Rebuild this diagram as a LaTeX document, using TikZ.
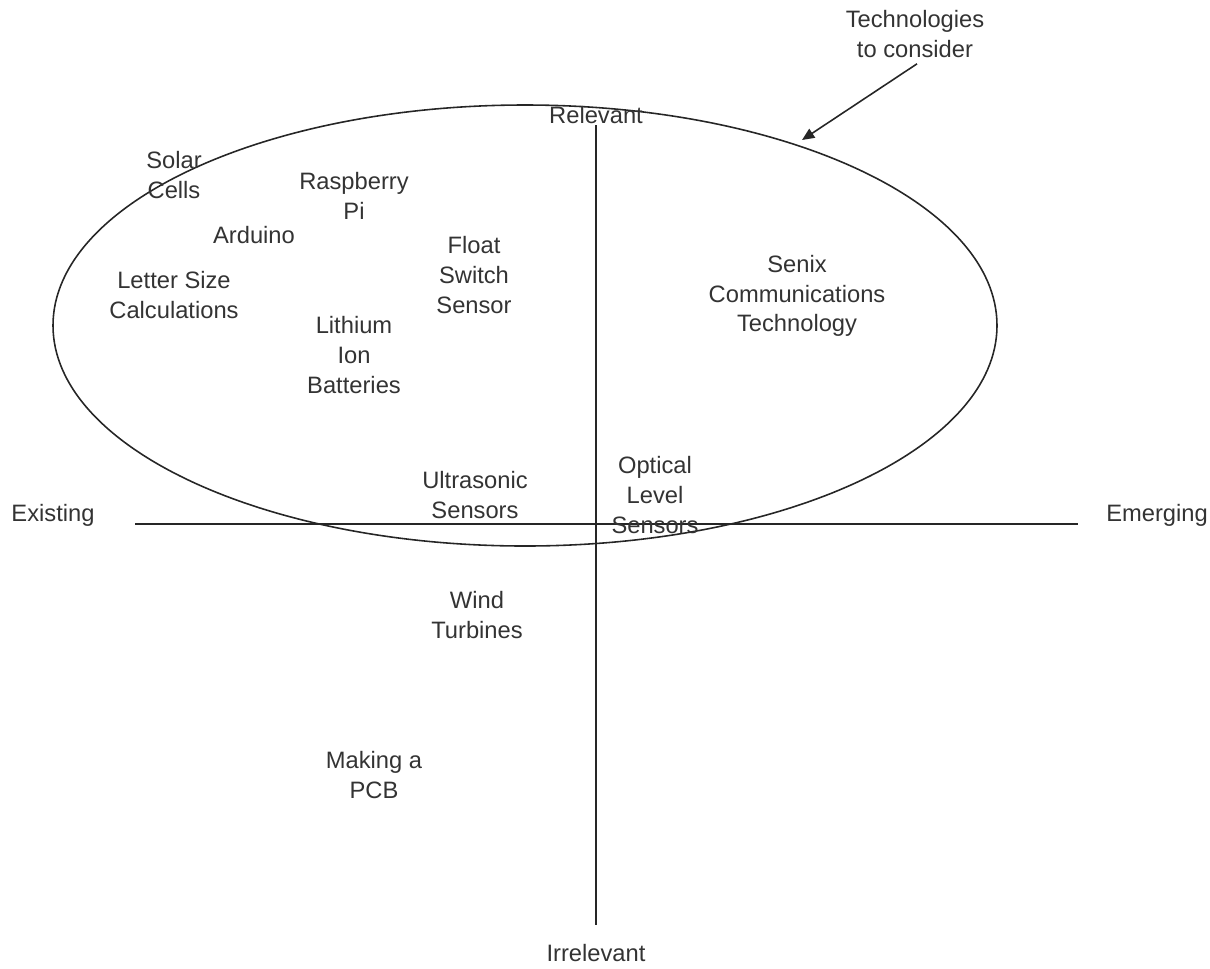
\documentclass[tikz,border=0pt]{standalone}
\usepackage{fontspec}
\setmainfont{Liberation Sans}
\usetikzlibrary{arrows.meta}

\begin{document}
\begin{tikzpicture}[
  x=0.02cm, y=-0.02cm,
  techlabel/.style={align=center, text=black!80, inner sep=0pt,
                    font=\fontsize{13.5}{16.8}\selectfont},
  axislabel/.style={techlabel},
  axisline/.style={draw=black!85, line width=0.9pt},
  >={Triangle[length=7pt, width=6pt]}
]
\useasboundingbox (0,0) rectangle (1210,968);

% Group of technologies
\draw[axisline] (525,325.5) ellipse [x radius=472, y radius=220.5];

% Axes
\coordinate (vtop) at (596,125);
\coordinate (vbot) at (596,925);
\coordinate (hleft) at (135,524);
\coordinate (hright) at (1078,524);
\draw[axisline] (vtop) -- (vbot);
\draw[axisline] (hleft) -- (hright);

% Axis labels
\node[axislabel] (relevant) at (596,115) {Relevant};
\node[axislabel] (irrelevant) at (596,953) {Irrelevant};
\node[axislabel] (existing) at (53,515) {Existing};
\node[axislabel] (emerging) at (1157,515) {Emerging};

% Technologies
\node[techlabel] (solar) at (174,175) {Solar\\Cells};
\node[techlabel] (raspi) at (354,196) {Raspberry\\Pi};
\node[techlabel] (arduino) at (254,235) {Arduino};
\node[techlabel] (letter) at (174,295) {Letter Size\\Calculations};
\node[techlabel] (float) at (474,275) {Float\\Switch\\Sensor};
\node[techlabel] (lithium) at (354,355) {Lithium\\Ion\\Batteries};
\node[techlabel] (senix) at (797,296) {Senix\\Communications\\Technology};
\node[techlabel] (ultra) at (475,495) {Ultrasonic\\Sensors};
\node[techlabel] (optical) at (655,495) {Optical\\Level\\Sensors};
\node[techlabel] (wind) at (477,615) {Wind\\Turbines};
\node[techlabel] (pcb) at (374,775) {Making a\\PCB};

% Annotation
\node[techlabel] (consider) at (915,34) {Technologies\\to consider};
\coordinate (rim) at (802,140);
\draw[->, line width=0.9pt, black!85] (consider.south) ++(2,6) -- (rim);

\end{tikzpicture}
\end{document}
